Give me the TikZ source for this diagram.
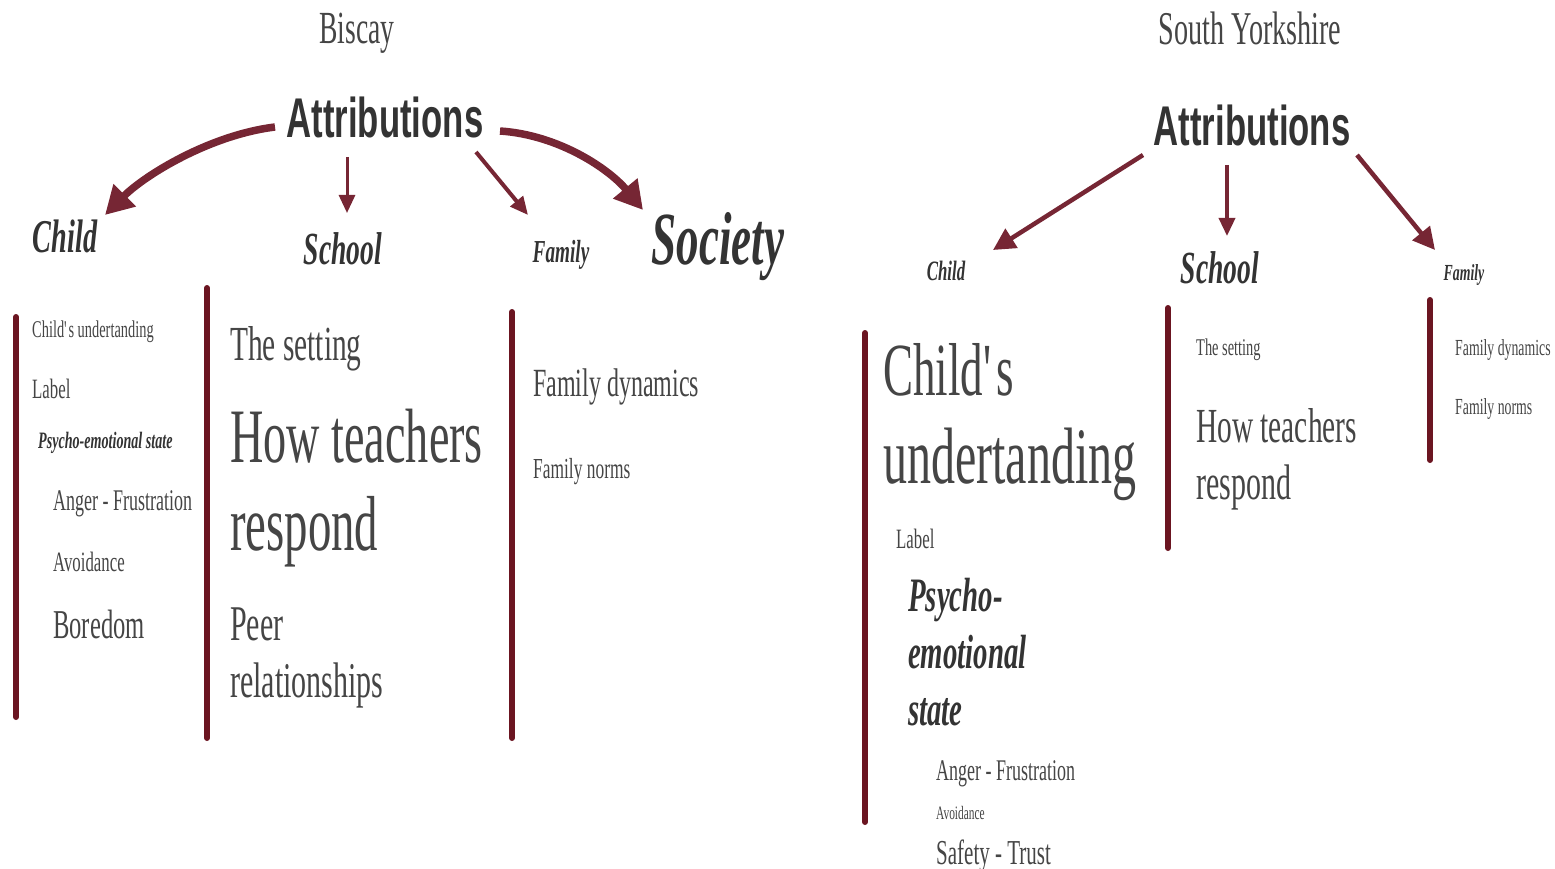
\documentclass[tikz,border=0pt]{standalone}
\usepackage{fontspec}
\setmainfont{Liberation Serif}[FakeStretch=0.6]
\newfontfamily\attrfont{Liberation Sans}[FakeStretch=0.62]
\usetikzlibrary{arrows.meta}
\definecolor{barred}{HTML}{6B1521}
\definecolor{arrowred}{HTML}{762634}
\definecolor{inkgray}{HTML}{454545}
\definecolor{headgray}{HTML}{333333}
\newcommand{\fsz}[1]{\fontsize{#1}{#1}\selectfont}
\tikzset{
	body/.style={anchor=base west, inner sep=0pt, text=inkgray},
	head/.style={anchor=base, inner sep=0pt, text=headgray},
	attr/.style={anchor=base, inner sep=0pt, text=headgray, font=\attrfont\bfseries\fsz{56}},
	place/.style={anchor=base, inner sep=0pt, text=inkgray, font=\fsz{46}},
	bigarrow/.style={draw=arrowred, line width=7.5pt, -{Triangle[width=30pt,length=28pt]}},
	smallarrow/.style={draw=arrowred, line width=#1, -{Triangle[width=16pt,length=18pt]}},
	bar/.style={draw=barred, line width=6pt, line cap=round}
}
\begin{document}
\begin{tikzpicture}[x=1pt,y=-1pt]
	\useasboundingbox (0,0) rectangle (1555,869);
	% Biscay
	\node[place] (biscay) at (357,44) {Biscay};
	\node[attr] (attrL) at (385,138) {Attributions};
	\node[head, font=\bfseries\itshape\fsz{47}] (childL) at (65,252) {Child};
	\node[head, font=\bfseries\itshape\fsz{46}] (schoolL) at (343,264) {School};
	\node[head, font=\bfseries\itshape\fsz{32}] (familyL) at (561,262) {Family};
	\node[head, font=\bfseries\itshape\fsz{75}] (societyL) at (718,264) {Society};
	\draw[bigarrow] ([shift={(-110pt,11pt)}]attrL.base) .. controls +(-65,8) and +(40,-40) .. ([shift={(40pt,37pt)}]childL.base);
	\draw[smallarrow=3pt] ([shift={(-38pt,-19pt)}]attrL.base) -- ([shift={(4pt,51pt)}]schoolL.base);
	\draw[smallarrow=4pt] ([shift={(91pt,-14pt)}]attrL.base) -- ([shift={(-33pt,47pt)}]familyL.base);
	\draw[bigarrow] ([shift={(115pt,7pt)}]attrL.base) .. controls +(60,4) and +(-33,-40) .. ([shift={(-75pt,54pt)}]societyL.base);
	\draw[bar] (16,317) -- (16,717);
	\draw[bar] (207,288) -- (207,738);
	\draw[bar] (512,312) -- (512,738);
	\node[body, font=\fsz{24}] (underL) at (32,337) {Child\textquotesingle s undertanding};
	\node[body, font=\fsz{28}] (labelL) at (32,398) {Label};
	\node[body, font=\bfseries\itshape\fsz{23.5}, text=headgray] (psychoL) at (38,448) {Psycho-emotional state};
	\node[body, font=\fsz{30}] (angerL) at (53,510) {Anger - Frustration};
	\node[body, font=\fsz{28}] (avoidL) at (53,571) {Avoidance};
	\node[body, font=\fsz{41}] (boredL) at (53,638) {Boredom};
	\node[body, font=\fsz{49}] (settingL) at (230,360) {The setting};
	\node[body, font=\fsz{77}] (teachL) at (230,462) {How teachers};
	\node[body, font=\fsz{78}] (respL) at (230,550) {respond};
	\node[body, font=\fsz{50}] (peerL) at (230,640) {Peer};
	\node[body, font=\fsz{50}] (relL) at (230,697) {relationships};
	\node[body, font=\fsz{40}] (dynL) at (533,396) {Family dynamics};
	\node[body, font=\fsz{29}] (normsL) at (533,478) {Family norms};
	% South Yorkshire
	\node[place, font=\fsz{47}] (yorks) at (1250,45) {South Yorkshire};
	\node[attr] (attrR) at (1252,146) {Attributions};
	\node[head, font=\bfseries\itshape\fsz{28}] (childR) at (946,280) {Child};
	\node[head, font=\bfseries\itshape\fsz{46}] (schoolR) at (1220,283) {School};
	\node[head, font=\bfseries\itshape\fsz{23}] (familyR) at (1464,280) {Family};
	\draw[smallarrow=4.5pt, -{Triangle[width=22pt,length=22pt]}] ([shift={(-109pt,-9pt)}]attrR.base) -- ([shift={(47pt,30pt)}]childR.base);
	\draw[smallarrow=3.5pt] ([shift={(-25pt,-19pt)}]attrR.base) -- ([shift={(7pt,47pt)}]schoolR.base);
	\draw[smallarrow=4.5pt, -{Triangle[width=22pt,length=22pt]}] ([shift={(105pt,-9pt)}]attrR.base) -- ([shift={(-29pt,30pt)}]familyR.base);
	\draw[bar] (865,333) -- (865,822);
	\draw[bar] (1168,308) -- (1168,548);
	\draw[bar] (1430,300) -- (1430,460);
	\node[body, font=\fsz{75}] (childsR) at (883,395) {Child\textquotesingle s};
	\node[body, font=\fsz{80}] (underR) at (883,483) {undertanding};
	\node[body, font=\fsz{28}] (labelR) at (896,548) {Label};
	\node[body, font=\bfseries\itshape\fsz{48}, text=headgray] (psychoR) at (908,611) {Psycho-};
	\node[body, font=\bfseries\itshape\fsz{48}, text=headgray] (emoR) at (908,668) {emotional};
	\node[body, font=\bfseries\itshape\fsz{48}, text=headgray] (stateR) at (908,725) {state};
	\node[body, font=\fsz{30}] (angerR) at (936,780) {Anger - Frustration};
	\node[body, font=\fsz{19}] (avoidR) at (936,819) {Avoidance};
	\node[body, font=\fsz{35}] (safeR) at (936,864) {Safety - Trust};
	\node[body, font=\fsz{24}] (settingR) at (1196,355) {The setting};
	\node[body, font=\fsz{49}] (teachR) at (1196,442) {How teachers};
	\node[body, font=\fsz{50}] (respR) at (1196,499) {respond};
	\node[body, font=\fsz{23}] (dynR) at (1455,355) {Family dynamics};
	\node[body, font=\fsz{23}] (normsR) at (1455,414) {Family norms};
\end{tikzpicture}
\end{document}
